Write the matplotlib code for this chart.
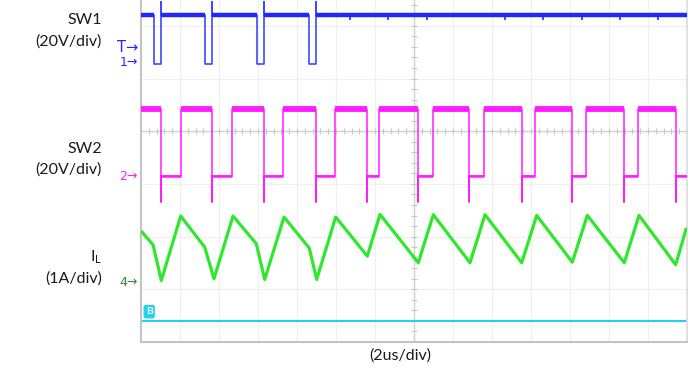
import numpy as np
import matplotlib
matplotlib.use("Agg")
import matplotlib.pyplot as plt

plt.rcParams['font.family'] = ['Lato', 'DejaVu Sans']
plt.rcParams['mathtext.fontset'] = 'custom'
plt.rcParams['mathtext.rm'] = 'Lato'

# Screen units: x in divisions (2us/div), y in divisions from the centre line
# SW1 (blue) switching edges, levels
sw1_fall = [0.341, 1.641, 2.982, 4.315]
sw1_rise = [0.521, 1.828, 3.159, 4.487]
sw1_high = 2.205
sw1_low = 1.274
sw1_overshoot = 2.45
sw1_glitch_t = [5.36, 6.33, 7.33, 9.33, 10.31, 11.31, 12.28, 13.26]

# SW2 (magenta) switching edges, levels
sw2_fall = [0.521, 1.828, 3.162, 4.487, 5.787, 7.110, 8.418, 9.762, 11.059, 12.377, 13.710]
sw2_rise = [1.026, 2.326, 3.649, 4.974, 6.110, 7.479, 8.803, 10.110, 11.418, 12.736]
sw2_high = 0.428
sw2_low = -0.856
sw2_undershoot = -1.35

# Inductor current (green) vertices
il_t = [0.026, 0.308, 0.521, 1.018, 1.633, 1.872, 2.359, 2.956, 3.172, 3.667, 4.315,
        4.505, 4.992, 5.803, 6.128, 7.110, 7.495, 8.436, 8.821, 9.762, 10.146, 11.059,
        11.444, 12.392, 12.769, 13.710, 13.974]
il_v = [-1.914, -2.154, -2.833, -1.610, -2.200, -2.800, -1.610, -2.135, -2.814, -1.629, -2.219,
        -2.814, -1.629, -2.371, -1.578, -2.496, -1.584, -2.496, -1.584, -2.496, -1.597, -2.485,
        -1.597, -2.496, -1.597, -2.534, -1.863]

# cyan reference trace
ref_level = -3.61

x_max = 14
y_min, y_max = -4.0, 2.49

blue = '#1e28ff'
magenta = '#ff1cff'
green = '#2ee82e'
cyan = '#22d3ee'

fig = plt.figure(figsize=(6.92, 3.68), dpi=100)
ax = fig.add_axes([141 / 692, 26 / 368, 546 / 692, 342 / 368])
ax.set_xlim(0, x_max)
ax.set_ylim(y_min, y_max)

# grid
for gx in range(1, x_max):
    ax.axvline(gx, color='#f0f0f0', lw=0.9, zorder=0)
for gy in range(int(np.ceil(y_min)), int(y_max) + 1):
    ax.axhline(gy, color='#f0f0f0', lw=0.9, zorder=0)
ax.axvline(7, color='#d2d2d2', lw=1.0, zorder=1)
ax.axhline(0, color='#d2d2d2', lw=1.0, zorder=1)
tx = np.arange(0, x_max + 0.01, 0.2)
ax.plot(tx, np.zeros_like(tx), ls='none', marker='|', ms=4, color='#c8c8c8', mew=0.8, zorder=1)
ty = np.arange(-4, y_max, 0.2)
ax.plot(np.full_like(ty, 7), ty, ls='none', marker='_', ms=4, color='#c8c8c8', mew=0.8, zorder=1)

# SW1 waveform
xs, ys = [0], [sw1_high]
for f, r in zip(sw1_fall, sw1_rise):
    xs += [f, f, r, r, r]
    ys += [sw1_high, sw1_low, sw1_low, sw1_overshoot, sw1_high]
xs.append(x_max); ys.append(sw1_high)
ax.plot(xs, ys, color=blue, lw=1.2, alpha=0.85, zorder=3)
hx = [0] + sw1_rise
hx_end = sw1_fall + [x_max]
ax.hlines([sw1_high] * len(hx), hx, hx_end, color=blue, lw=3.2, zorder=3)
ax.vlines(sw1_glitch_t, sw1_high - 0.09, sw1_high, color=blue, lw=1.2, zorder=3)

# SW2 waveform
xs, ys = [0], [sw2_high]
for i, f in enumerate(sw2_fall):
    xs += [f, f, f]
    ys += [sw2_high, sw2_undershoot, sw2_low]
    if i < len(sw2_rise):
        r = sw2_rise[i]
        xs += [r, r]
        ys += [sw2_low, sw2_high]
xs.append(x_max); ys.append(sw2_low)
ax.plot(xs, ys, color=magenta, lw=1.1, zorder=3)
ax.hlines([sw2_high] * len(sw2_fall), [0] + sw2_rise, sw2_fall, color=magenta, lw=4.2, zorder=3)
ax.hlines([sw2_low] * len(sw2_fall), sw2_fall, sw2_rise + [x_max], color=magenta, lw=1.8, zorder=3)

# inductor current
ax.plot(il_t, il_v, color=green, lw=2.3, zorder=4)

# reference line
ax.axhline(ref_level, color=cyan, lw=1.5, zorder=2)

ax.set_xticks([])
ax.set_yticks([])
ax.spines['top'].set_visible(False)
ax.spines['left'].set_color('#c4c4c4')
ax.spines['left'].set_linewidth(1.5)
ax.spines['bottom'].set_color('#c4c4c4')
ax.spines['bottom'].set_linewidth(1.5)
ax.spines['right'].set_color('#dcdcdc')
ax.spines['right'].set_linewidth(1.2)

W, H = 692, 368
def ft(px, py, s, **kw):
    fig.text(px / W, 1 - py / H, s, **kw)

# channel markers in the left margin
mk = dict(ha='right', va='center', family=['DejaVu Sans'])
ft(138, 48, 'T\u2192', color=blue, fontsize=10.5, **mk)
ft(138, 62, '1\u2192', color=blue, fontsize=9, **mk)
ft(138, 177, '2\u2192', color=magenta, fontsize=9, **mk)
ft(138, 282, '4\u2192', color='#2e8b2e', fontsize=9, **mk)

# "B" reference label
ax.text(0.21, ref_level + 0.1, 'B', color='white', fontsize=7.5, fontweight='bold',
        ha='center', va='bottom', zorder=5,
        bbox=dict(boxstyle='round,pad=0.15', fc=cyan, ec=cyan))

# channel labels
lab = dict(fontsize=11.5, color='#1a1a1a', ha='right', va='center')
ft(102, 20, 'SW1', **lab)
ft(102, 42, '(20V/div)', **lab)
ft(102, 149, 'SW2', **lab)
ft(102, 170, '(20V/div)', **lab)
ft(102, 257, r'I$_{\mathrm{L}}$', **lab)
ft(102, 279, '(1A/div)', **lab)
ft(400, 356, '(2us/div)', fontsize=11.5, color='#1a1a1a', ha='center', va='center')

fig.savefig('out.png', dpi=100)
